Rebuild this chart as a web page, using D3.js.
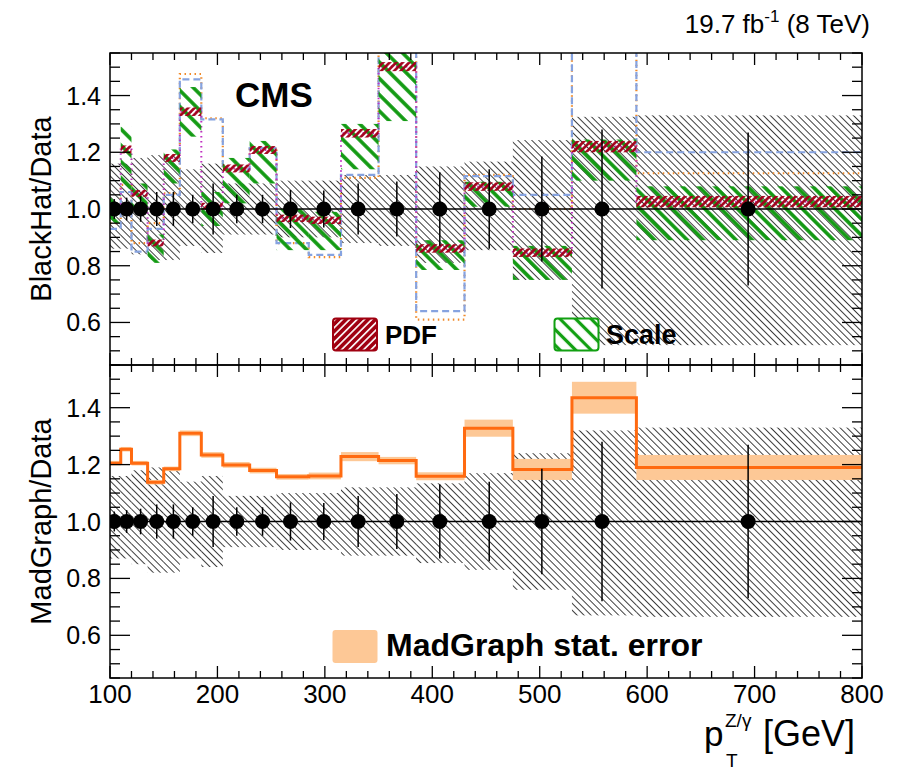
<!DOCTYPE html>
<html><head><meta charset="utf-8">
<script src="https://cdn.jsdelivr.net/npm/d3@7/dist/d3.min.js"></script>
<style>
body{margin:0;background:#fff}
svg{display:block}
text{font-family:"Liberation Sans",Arial,Helvetica,sans-serif;fill:#000}
</style>
</head><body>
<svg id="chart" width="922" height="770"></svg>
<script>
// ---------------- data ----------------
const binEdges = [100,110,120,135,150,165,185,205,230,255,285,315,350,385,430,475,530,590,800];
const dataX    = [104,115.5,128.5,143.5,159,177,196,218,242,268,299,331,367,407,453,502,558,694];
const dataStat = [0.035,0.04,0.045,0.06,0.06,0.05,0.09,0.05,0.05,0.067,0.065,0.09,0.097,0.13,0.14,0.185,0.28,0.27];
// data systematic band (hatched)
const systTopHi = [1.16,1.16,1.18,1.19,1.19,1.14,1.16,1.09,1.09,1.10,1.10,1.12,1.12,1.15,1.167,1.243,1.325,1.33];
const systTopLo = [0.86,0.86,0.84,0.82,0.82,0.87,0.845,0.91,0.91,0.90,0.90,0.88,0.87,0.81,0.855,0.75,0.52,0.52];
const systBotHi = [1.16,1.16,1.18,1.19,1.19,1.14,1.16,1.09,1.09,1.10,1.10,1.12,1.12,1.134,1.17,1.24,1.32,1.33];
const systBotLo = [0.87,0.87,0.85,0.82,0.82,0.87,0.84,0.91,0.91,0.90,0.90,0.88,0.88,0.854,0.83,0.76,0.67,0.665];
// BlackHat / Data
const bhCentral = [1.0,1.21,1.055,0.88,1.18,1.343,1.01,1.143,1.208,0.967,0.96,1.267,1.502,0.861,1.079,0.846,1.22,1.026];
const pdfErr    = [0.012,0.014,0.012,0.012,0.014,0.015,0.012,0.014,0.014,0.013,0.013,0.015,0.016,0.015,0.015,0.015,0.02,0.02];
const scaleLo   = [0.95,1.07,1.0,0.81,1.09,1.255,0.94,1.02,1.09,0.855,0.855,1.14,1.31,0.785,1.008,0.75,1.10,0.89];
const scaleHi   = [1.05,1.29,1.09,0.91,1.21,1.43,1.06,1.18,1.24,1.0,0.99,1.30,1.56,0.89,1.096,0.87,1.245,1.08];
const altDashed = [0.93,1.06,0.85,0.93,1.05,1.457,1.316,1.14,1.215,0.88,0.838,1.12,1.70,0.64,1.116,1.05,1.70,1.20];
const altDotted = [0.95,1.085,0.88,0.95,1.055,1.476,1.32,1.14,1.215,0.88,0.83,1.11,1.70,0.61,1.12,1.0,1.70,1.126];
// MadGraph / Data
const mgCentral = [1.205,1.254,1.205,1.138,1.185,1.31,1.234,1.199,1.179,1.157,1.16,1.228,1.214,1.159,1.328,1.183,1.435,1.19];
const mgStat    = [0.008,0.008,0.008,0.008,0.008,0.01,0.01,0.01,0.01,0.01,0.012,0.016,0.013,0.014,0.03,0.037,0.056,0.044];
// ticks
const xMajor = [100,200,300,400,500,600,700,800];
const yMajor = [0.6,0.8,1.0,1.2,1.4];

// ---------------- layout ----------------
const svg = d3.select("#chart");
const L = 110, R = 862, T1 = 53, B1 = 365, T2 = 365, B2 = 678;
const x = d3.scaleLinear().domain([100,800]).range([L,R]);
const yT = d3.scaleLinear().domain([0.45,1.55]).range([B1,T1]);
const yB = d3.scaleLinear().domain([0.45,1.55]).range([B2,T2]);
const bins = d3.range(binEdges.length-1).map(i=>({i, x0:binEdges[i], x1:binEdges[i+1]}));

const defs = svg.append("defs");
function hatch(id, sp, angle, color, w, bg){
  const p = defs.append("pattern").attr("id",id).attr("patternUnits","userSpaceOnUse")
    .attr("width",sp).attr("height",sp).attr("patternTransform",`rotate(${angle})`);
  if(bg) p.append("rect").attr("width",sp).attr("height",sp).attr("fill",bg);
  p.append("line").attr("x1",sp/2).attr("x2",sp/2).attr("y1",-1).attr("y2",sp+1)
    .attr("stroke",color).attr("stroke-width",w);
}
hatch("hData", 4.9, -45, "#2a2a2a", 0.9);
hatch("hScale", 11.5, -45, "#129a12", 3.6);
hatch("hPdf", 4.6, 45, "#a3001a", 2.6);
hatch("hPdfLeg", 5.2, 45, "#a00010", 3.6, "#fff");
hatch("hScaleLeg", 11, -45, "#12a012", 3.2, "#fff");
["c1","c2"].forEach((id,k)=>{
  defs.append("clipPath").attr("id",id).append("rect")
    .attr("x",L).attr("y",k?T2:T1).attr("width",R-L).attr("height",k?B2-T2:B1-T1);
});

const stepLine = (vals, y) => d3.line().curve(d3.curveStepAfter).x(d=>x(d[0])).y(d=>y(d[1]))(
  binEdges.map((e,i)=>[e, vals[Math.min(i, vals.length-1)]]));

// ---------------- top panel ----------------
const gT = svg.append("g").attr("clip-path","url(#c1)");
gT.selectAll("rect.sys").data(bins).join("rect")
  .attr("x",d=>x(d.x0)).attr("width",d=>x(d.x1)-x(d.x0))
  .attr("y",d=>yT(systTopHi[d.i])).attr("height",d=>yT(systTopLo[d.i])-yT(systTopHi[d.i]))
  .attr("fill","url(#hData)");
gT.append("path").attr("d",stepLine(altDotted,yT)).attr("fill","none")
  .attr("stroke","#f08a2a").attr("stroke-width",2.2).attr("stroke-dasharray","1.5,3.5");
gT.append("path").attr("d",stepLine(altDashed,yT)).attr("fill","none")
  .attr("stroke","#86a3e0").attr("stroke-width",2.2).attr("stroke-dasharray","7,4");
gT.append("path").attr("d",stepLine(bhCentral,yT)).attr("fill","none")
  .attr("stroke","#c030c0").attr("stroke-width",2).attr("stroke-dasharray","1.5,3.5");
gT.selectAll("rect.sc").data(bins).join("rect")
  .attr("x",d=>x(d.x0)).attr("width",d=>x(d.x1)-x(d.x0))
  .attr("y",d=>yT(scaleHi[d.i])).attr("height",d=>yT(scaleLo[d.i])-yT(scaleHi[d.i]))
  .attr("fill","url(#hScale)");
gT.selectAll("rect.pdf").data(bins).join("rect")
  .attr("x",d=>x(d.x0)).attr("width",d=>x(d.x1)-x(d.x0))
  .attr("y",d=>yT(bhCentral[d.i]+pdfErr[d.i])).attr("height",d=>yT(bhCentral[d.i]-pdfErr[d.i])-yT(bhCentral[d.i]+pdfErr[d.i]))
  .attr("fill","url(#hPdf)");

// ---------------- bottom panel ----------------
const gB = svg.append("g").attr("clip-path","url(#c2)");
gB.selectAll("rect.sys").data(bins).join("rect")
  .attr("x",d=>x(d.x0)).attr("width",d=>x(d.x1)-x(d.x0))
  .attr("y",d=>yB(systBotHi[d.i])).attr("height",d=>yB(systBotLo[d.i])-yB(systBotHi[d.i]))
  .attr("fill","url(#hData)");
gB.selectAll("rect.mg").data(bins).join("rect")
  .attr("x",d=>x(d.x0)).attr("width",d=>x(d.x1)-x(d.x0))
  .attr("y",d=>yB(mgCentral[d.i]+mgStat[d.i])).attr("height",d=>yB(mgCentral[d.i]-mgStat[d.i])-yB(mgCentral[d.i]+mgStat[d.i]))
  .attr("fill","#fdc896");
gB.append("path").attr("d",stepLine(mgCentral,yB)).attr("fill","none")
  .attr("stroke","#ff6a10").attr("stroke-width",3);

// data points in both panels
[[gT,yT],[gB,yB]].forEach(([g,y])=>{
  g.append("line").attr("x1",L).attr("x2",R).attr("y1",y(1)).attr("y2",y(1)).attr("stroke","#000").attr("stroke-width",1.5);
  g.selectAll("line.err").data(dataX).join("line")
    .attr("x1",d=>x(d)).attr("x2",d=>x(d))
    .attr("y1",(d,i)=>y(1+dataStat[i])).attr("y2",(d,i)=>y(1-dataStat[i]))
    .attr("stroke","#000").attr("stroke-width",1.5);
  g.selectAll("circle").data(dataX).join("circle")
    .attr("cx",d=>x(d)).attr("cy",y(1)).attr("r",7.5).attr("fill","#000");
});

// ---------------- frames & ticks ----------------
function frame(y, top, bottom, labels){
  const g = svg.append("g");
  g.append("rect").attr("x",L).attr("y",top).attr("width",R-L).attr("height",bottom-top)
    .attr("fill","none").attr("stroke","#000").attr("stroke-width",1.5);
  const xMinor = d3.range(100,801,20);
  xMinor.forEach(v=>{
    const len = xMajor.includes(v)?12:7;
    g.append("line").attr("x1",x(v)).attr("x2",x(v)).attr("y1",bottom).attr("y2",bottom-len).attr("stroke","#000").attr("stroke-width",1.3);
    g.append("line").attr("x1",x(v)).attr("x2",x(v)).attr("y1",top).attr("y2",top+len).attr("stroke","#000").attr("stroke-width",1.3);
  });
  const yMinor = d3.range(0.45,1.551,0.05).map(v=>+v.toFixed(2));
  yMinor.forEach(v=>{
    const maj = yMajor.some(m=>Math.abs(m-v)<1e-6);
    const len = maj?20:10;
    g.append("line").attr("x1",L).attr("x2",L+len).attr("y1",y(v)).attr("y2",y(v)).attr("stroke","#000").attr("stroke-width",1.3);
    g.append("line").attr("x1",R).attr("x2",R-len).attr("y1",y(v)).attr("y2",y(v)).attr("stroke","#000").attr("stroke-width",1.3);
  });
  yMajor.forEach(v=>{
    g.append("text").attr("x",L-9).attr("y",y(v)).attr("dy","0.36em").attr("text-anchor","end")
      .attr("font-size",25).text(d3.format(".1f")(v));
  });
  if(labels){
    xMajor.forEach(v=>{
      g.append("text").attr("x",x(v)).attr("y",bottom+25).attr("text-anchor","middle")
        .attr("font-size",26).text(v);
    });
  }
}
frame(yT, T1, B1, false);
frame(yB, T2, B2, true);

// ---------------- titles ----------------
svg.append("text").attr("transform",`translate(51,${(T1+B1)/2}) rotate(-90)`).attr("text-anchor","middle")
  .attr("font-size",29).text("BlackHat/Data");
svg.append("text").attr("transform",`translate(51,${(T2+B2)/2}) rotate(-90)`).attr("text-anchor","middle")
  .attr("font-size",29).text("MadGraph/Data");
svg.append("text").attr("x",235).attr("y",107).attr("font-size",35).attr("font-weight","bold").text("CMS");
const lum = svg.append("text").attr("x",870).attr("y",33).attr("text-anchor","end").attr("font-size",26);
lum.append("tspan").text("19.7 fb");
lum.append("tspan").attr("dy",-11).attr("font-size",17).text("-1");
lum.append("tspan").attr("dy",11).text(" (8 TeV)");
const xt = svg.append("g");
xt.append("text").attr("x",704).attr("y",746).attr("font-size",35).text("p");
xt.append("text").attr("x",725).attr("y",727).attr("font-size",19).text("Z/γ");
xt.append("text").attr("x",726).attr("y",767).attr("font-size",19).text("T");
xt.append("text").attr("x",763).attr("y",746).attr("font-size",36).text("[GeV]");

// ---------------- legends ----------------
svg.append("rect").attr("x",333).attr("y",318.5).attr("width",44).attr("height",32).attr("rx",3)
  .attr("fill","url(#hPdfLeg)").attr("stroke","#a00010").attr("stroke-width",2);
svg.append("text").attr("x",385).attr("y",344).attr("font-size",26).attr("font-weight","bold").text("PDF");
svg.append("rect").attr("x",554.5).attr("y",318.5).attr("width",44).attr("height",32).attr("rx",3)
  .attr("fill","url(#hScaleLeg)").attr("stroke","#12a012").attr("stroke-width",2);
svg.append("text").attr("x",606).attr("y",344).attr("font-size",27).attr("font-weight","bold").text("Scale");
svg.append("rect").attr("x",332.5).attr("y",630).attr("width",45).attr("height",33).attr("rx",3)
  .attr("fill","#fdc896");
svg.append("text").attr("x",386).attr("y",656).attr("font-size",32).attr("font-weight","bold").text("MadGraph stat. error");
</script>
</body></html>
